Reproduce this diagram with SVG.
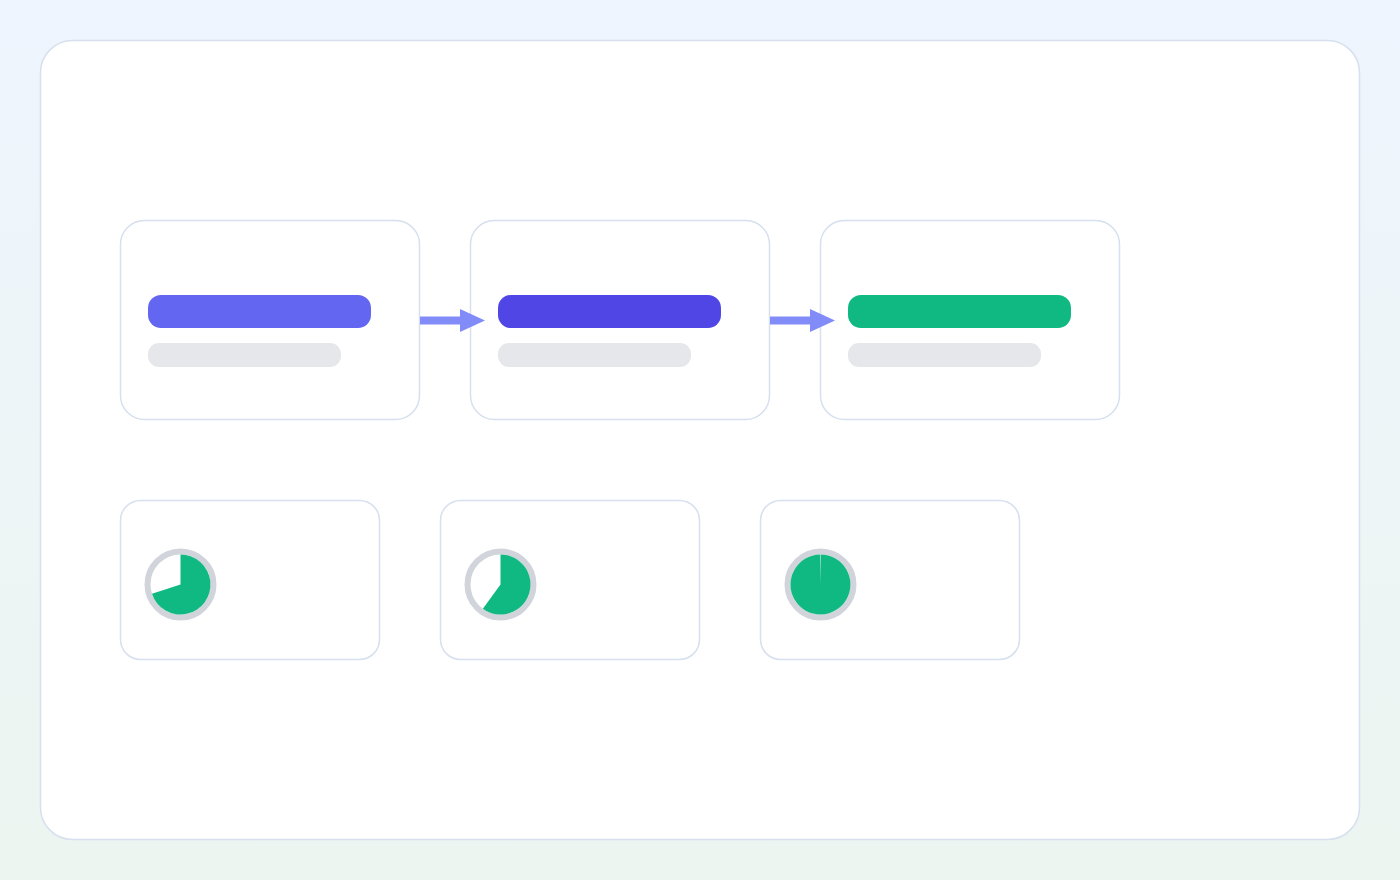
<svg xmlns="http://www.w3.org/2000/svg" width="1400" height="880" viewBox="0 0 1400 880">
  <defs>
    <linearGradient id="bg" x1="0" y1="0" x2="0" y2="1">
      <stop offset="0" stop-color="#eff5fe"/>
      <stop offset="1" stop-color="#ecf5f0"/>
    </linearGradient>
    <style>
      .card { fill: #ffffff; stroke: #d6e0ee; stroke-width: 1.5; }
      .sub { fill: #e5e7eb; }
      .ring { fill: #ffffff; stroke: #d1d5db; stroke-width: 6; }
      .pie { fill: #10b981; }
      .conn { stroke: #818cf8; stroke-width: 8; fill: none; }
      .head { fill: #818cf8; }
    </style>
  </defs>
  <rect x="0" y="0" width="1400" height="880" fill="url(#bg)"/>
  <rect id="panel" x="40.5" y="40.5" width="1319" height="799" rx="32" class="card"/>

  <g id="step1">
    <rect x="120.5" y="220.5" width="299" height="199" rx="24" class="card"/>
    <rect x="148" y="295" width="223" height="33" rx="13" fill="#6366f1"/>
    <rect x="148" y="343" width="193" height="24" rx="11" class="sub"/>
  </g>
  <g id="step2">
    <rect x="470.5" y="220.5" width="299" height="199" rx="24" class="card"/>
    <rect x="498" y="295" width="223" height="33" rx="13" fill="#4f46e5"/>
    <rect x="498" y="343" width="193" height="24" rx="11" class="sub"/>
  </g>
  <g id="step3">
    <rect x="820.5" y="220.5" width="299" height="199" rx="24" class="card"/>
    <rect x="848" y="295" width="223" height="33" rx="13" fill="#10b981"/>
    <rect x="848" y="343" width="193" height="24" rx="11" class="sub"/>
  </g>

  <g id="connectors">
    <line x1="420" y1="320.5" x2="462" y2="320.5" class="conn"/>
    <polygon points="460,309 485,320.5 460,332" class="head"/>
    <line x1="770" y1="320.5" x2="812" y2="320.5" class="conn"/>
    <polygon points="810,309 835,320.5 810,332" class="head"/>
  </g>

  <g id="stat1">
    <rect x="120.5" y="500.5" width="259" height="159" rx="20" class="card"/>
    <circle cx="180.5" cy="584.5" r="33" class="ring"/>
    <path d="M180.5 584.5 L180.5 554.5 A30 30 0 1 1 151.97 593.77 Z" class="pie"/>
  </g>
  <g id="stat2">
    <rect x="440.5" y="500.5" width="259" height="159" rx="20" class="card"/>
    <circle cx="500.5" cy="584.5" r="33" class="ring"/>
    <path d="M500.5 584.5 L500.5 554.5 A30 30 0 1 1 482.87 608.77 Z" class="pie"/>
  </g>
  <g id="stat3">
    <rect x="760.5" y="500.5" width="259" height="159" rx="20" class="card"/>
    <circle cx="820.5" cy="584.5" r="33" class="ring"/>
    <path d="M820.5 584.5 L820.5 554.5 A30 30 0 1 1 819.93 554.505 Z" class="pie"/>
  </g>
</svg>
